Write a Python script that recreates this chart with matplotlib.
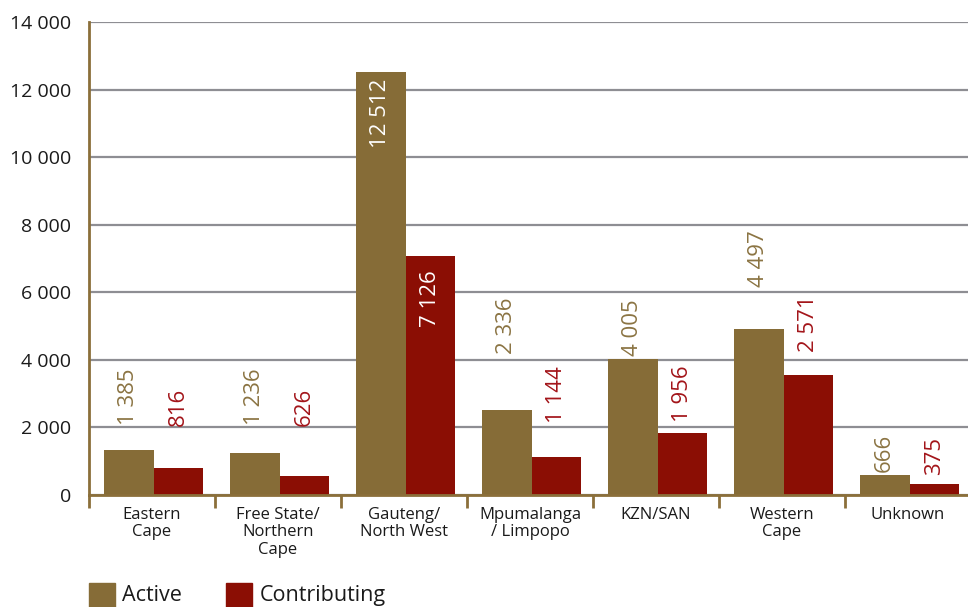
import numpy as np
import matplotlib
matplotlib.use("Agg")
from matplotlib import pyplot as plt
from matplotlib.patches import Rectangle

plt.rcParams['font.family'] = ['Open Sans', 'DejaVu Sans']

# data
categories = ["Eastern\nCape", "Free State/\nNorthern\nCape", "Gauteng/\nNorth West",
              "Mpumalanga\n/ Limpopo", "KZN/SAN", "Western\nCape", "Unknown"]
active_bars = [1330, 1240, 12510, 2515, 4020, 4911, 592]
contrib_bars = [800, 560, 7070, 1124, 1834, 3550, 325]
active_labels = ["1 385", "1 236", "12 512", "2 336", "4 005", "4 497", "666"]
contrib_labels = ["816", "626", "7 126", "1 144", "1 956", "2 571", "375"]
yticks = [0, 2000, 4000, 6000, 8000, 10000, 12000, 14000]

# layout of the value labels (data units, label anchor)
active_lab_y = [2072, 2072, 12314, 4174, 4114, 6157, 681]
contrib_lab_y = [2042, 2042, 6660, 2131, 2161, 4233, 592]
inside = [False, False, True, False, False, False, False]

c_active = "#866C37"
c_contrib = "#8B0E04"
c_active_txt = "#8B7443"
c_contrib_txt = "#A3151A"
c_axis = "#8B6F3A"
c_grid = "#8E8E93"

W, H = 968, 607
fig = plt.figure(figsize=(W / 100, H / 100), dpi=100)
ax = fig.add_axes([89 / W, (H - 495) / H, 882 / W, 473 / H])

x = np.arange(len(categories))
bw = 0.395
shift = 0.012
ax.bar(x - bw / 2 + shift, active_bars, bw, color=c_active, zorder=3)
ax.bar(x + bw / 2 + shift, contrib_bars, bw, color=c_contrib, zorder=3)

for i in range(len(categories)):
    if inside[i]:
        ax.text(x[i] - bw / 2 + shift, active_lab_y[i], active_labels[i], rotation=90,
                ha='center', va='top', color='white', fontsize=16, zorder=4)
        ax.text(x[i] + bw / 2 + shift, contrib_lab_y[i], contrib_labels[i], rotation=90,
                ha='center', va='top', color='white', fontsize=16, zorder=4)
    else:
        ax.text(x[i] - bw / 2 + shift, active_lab_y[i], active_labels[i], rotation=90,
                ha='center', va='bottom', color=c_active_txt, fontsize=16, zorder=4)
        ax.text(x[i] + bw / 2 + shift, contrib_lab_y[i], contrib_labels[i], rotation=90,
                ha='center', va='bottom', color=c_contrib_txt, fontsize=16, zorder=4)

ax.set_xlim(-0.5, len(categories) - 0.5)
ax.set_ylim(0, 14000)
ax.set_yticks(yticks)
ax.set_yticklabels([f"{v:,}".replace(",", " ") for v in yticks])
ax.tick_params(axis='y', length=0, pad=13, labelsize=14, labelcolor='#1a1a1a')

ax.set_xticks(x)
ax.set_xticklabels(categories, fontsize=12, linespacing=1.12, color='#1a1a1a')
ax.tick_params(axis='x', which='major', length=0, pad=8.5)
ax.set_xticks(np.arange(-0.5, len(categories)), minor=True)
ax.tick_params(axis='x', which='minor', length=9, width=2, color=c_axis, direction='out')

ax.grid(axis='y', color=c_grid, linewidth=1.6, zorder=1)
for s in ['top', 'right']:
    ax.spines[s].set_visible(False)
for s in ['left', 'bottom']:
    ax.spines[s].set_color(c_axis)
    ax.spines[s].set_linewidth(2)
    ax.spines[s].set_zorder(5)

# legend drawn by hand at the foot of the image
fig.add_artist(Rectangle((89 / W, (H - 609) / H), 26 / W, 26 / H,
                         transform=fig.transFigure, color=c_active))
fig.text(122 / W, (H - 601) / H, "Active", fontsize=15.5, va='baseline', color='#1a1a1a')
fig.add_artist(Rectangle((226 / W, (H - 609) / H), 26 / W, 26 / H,
                         transform=fig.transFigure, color=c_contrib))
fig.text(260 / W, (H - 601) / H, "Contributing", fontsize=15.5, va='baseline', color='#1a1a1a')

fig.savefig("out.png", dpi=100)
